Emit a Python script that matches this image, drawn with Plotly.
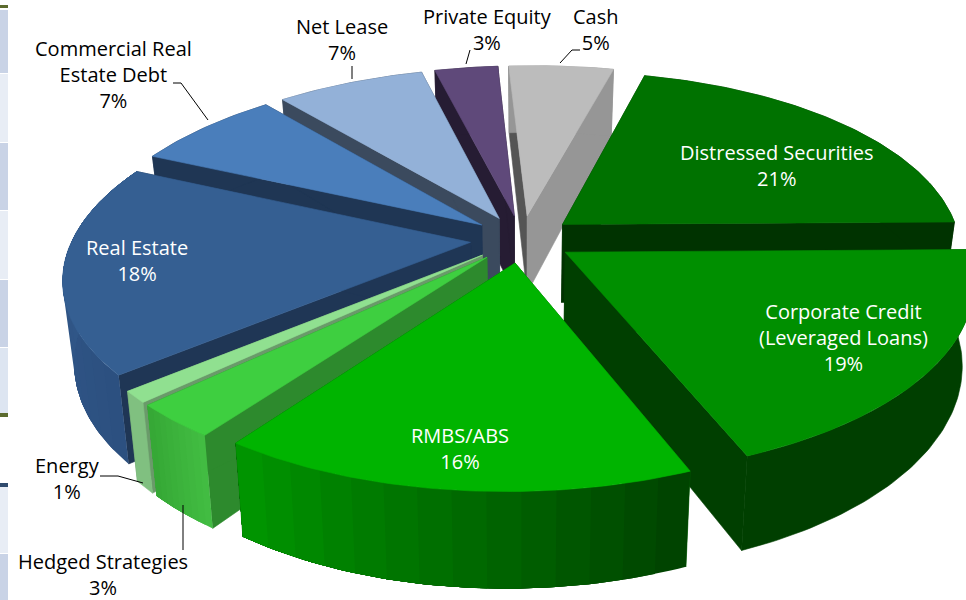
import numpy as np
import plotly.graph_objects as go

labels = ["Distressed Securities", "Corporate Credit<br>(Leveraged Loans)", "RMBS/ABS", "Hedged Strategies",
          "Energy", "Real Estate", "Commercial Real<br>Estate Debt", "Net Lease", "Private Equity", "Cash"]
shares = [21, 19, 16, 3, 1, 18, 7, 7, 3, 5]

top_colors = ["#007200", "#008f00", "#00b400", "#3ecf40", "#90e090", "#355f92", "#4a7ebb", "#93b1d8", "#5f497a", "#bcbcbc"]
start_wall = ["#003300", "#003f00", "#006000", "#2d8a2d", "#6a9a6a", "#1f3655", "#1f3654", "#3b4a5e", "#261c33", "#555555"]
end_wall = ["#003300", "#003f00", "#006000", "#2d8a2d", "#6a9a6a", "#1f3655", "#1f3654", "#3b4a5e", "#261c33", "#969696"]
rim_from = ["#003300", "#003f00", "#004400", "#42bc42", "#80c080", "#2c5080", "#1f3654", "#3b4a5e", "#261c33", "#969696"]
rim_to = ["#003300", "#003f00", "#009a00", "#34a634", "#80c080", "#345c8e", "#1f3654", "#3b4a5e", "#261c33", "#969696"]
text_colors = ["white", "white", "white", "black", "black", "white", "black", "black", "black", "black"]
label_x = [777, 843, 460, 103, 67, 137, 113, 342, 487, 596]
label_y = [165, 337, 448, 574, 478, 260, 74, 39, 29, 29]

leader_x = [None, None, None, [183, 183], [100, 118, 143], None, [173, 181, 208], [352, 352], [470, 466], [580, 572, 560]]
leader_y = [None, None, None, [505, 550], [476, 476, 483], None, [83, 83, 120], [66, 79], [50, 64], [50, 50, 63]]

side_x = [0, 8]
side_bands = [(10, 73, "#c9d3e6"), (74, 142, "#e8edf5"), (143, 210, "#c9d3e6"), (211, 279, "#e8edf5"),
              (280, 347, "#c9d3e6"), (348, 413, "#dde5f1"), (487, 553, "#e8edf5"), (554, 600, "#c9d3e6")]
side_rules = [(5, 8, "#5c6b2e"), (413, 417, "#5c6b2e"), (483, 487, "#2f4a6d")]

CX, CY, SX, SY, PERSP, SKEW, PULL, START, DEPTH, SHRINK = 522, 239, 398, 182, 0.165, 8, 0.13, 13.6, 79, 0.975


def project(X, Y, low=False):
    s = 1 / (1 + PERSP * Y)
    x, y = SX * X * s + SKEW * Y, -SY * Y * s
    if low:
        return CX + x * SHRINK, CY + y + DEPTH * s
    return CX + x, CY + y


def hexmix(a, b, t):
    ca = [int(a[i:i + 2], 16) for i in (1, 3, 5)]
    cb = [int(b[i:i + 2], 16) for i in (1, 3, 5)]
    return "#%02x%02x%02x" % tuple(round(p + (q - p) * t) for p, q in zip(ca, cb))


fig = go.Figure()


def poly(xs, ys, color, stroke=0.6):
    fig.add_trace(go.Scatter(x=list(xs) + [xs[0]], y=list(ys) + [ys[0]], mode="lines", fill="toself",
                             fillcolor=color, line=dict(color=color, width=stroke),
                             hoverinfo="skip", showlegend=False))


edges = START + np.cumsum([0] + [v * 3.6 for v in shares])
order = sorted(range(len(shares)), key=lambda i: -np.cos(np.radians((edges[i] + edges[i + 1]) / 2)))

for i in order:
    a0, a1 = edges[i], edges[i + 1]
    mid = np.radians((a0 + a1) / 2)
    ox, oy = PULL * np.sin(mid), PULL * np.cos(mid)
    ts = np.radians(np.linspace(a0, a1, max(6, int(a1 - a0))))
    wx, wy = ox + np.sin(ts), oy + np.cos(ts)
    tx, ty = project(wx, wy)
    bx, by = project(wx, wy, low=True)
    ax, ay = project(ox, oy)
    abx, aby = project(ox, oy, low=True)
    poly([ax, tx[0], bx[0], abx], [ay, ty[0], by[0], aby], start_wall[i])
    poly([ax, tx[-1], bx[-1], abx], [ay, ty[-1], by[-1], aby], end_wall[i])
    if rim_from[i] == rim_to[i]:
        poly(list(tx) + list(bx[::-1]), list(ty) + list(by[::-1]), rim_from[i])
    else:
        n = len(ts) - 1
        step = max(1, n // 14)
        # each strip runs to the far end of the rim, so the next one overlaps its seam
        for k in range(0, n, step):
            poly(list(tx[k:]) + list(bx[k:][::-1]), list(ty[k:]) + list(by[k:][::-1]),
                 hexmix(rim_from[i], rim_to[i], k / n), stroke=0)
    poly([ax] + list(tx), [ay] + list(ty), top_colors[i])

for lx, ly in zip(leader_x, leader_y):
    if lx:
        fig.add_trace(go.Scatter(x=lx, y=ly, mode="lines", line=dict(color="black", width=1),
                                 hoverinfo="skip", showlegend=False))

for name, v, x, y, col in zip(labels, shares, label_x, label_y, text_colors):
    fig.add_annotation(x=x, y=y, text=f"{name}<br>{v}%", showarrow=False, xanchor="center", yanchor="middle",
                       font=dict(family="Open Sans", size=20, color=col, weight=500), align="center")

shapes = [dict(type="rect", xref="x", yref="y", x0=side_x[0], x1=side_x[1], y0=a, y1=b,
               fillcolor=c, line_width=0, layer="below") for a, b, c in side_bands + side_rules]

fig.update_layout(width=966, height=600, margin=dict(l=0, r=0, t=0, b=0), paper_bgcolor="white",
                  plot_bgcolor="white", showlegend=False, shapes=shapes,
                  xaxis=dict(range=[0, 966], visible=False, fixedrange=True),
                  yaxis=dict(range=[600, 0], visible=False, fixedrange=True))
fig.write_html("out.html", config={"displayModeBar": False},
               post_script="document.body.style.margin='0';document.documentElement.style.overflow='hidden';")
